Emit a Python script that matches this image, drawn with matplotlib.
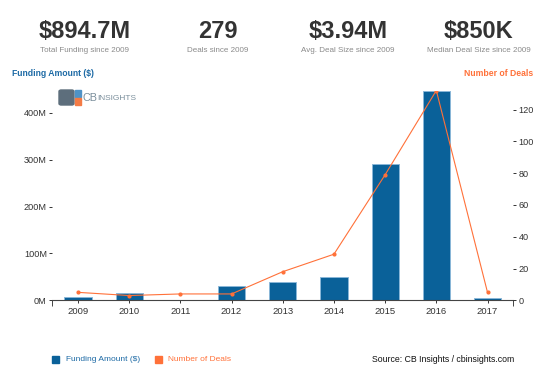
import matplotlib
matplotlib.use("Agg")
import matplotlib.pyplot as plt
from matplotlib.patches import FancyBboxPatch, Rectangle
import numpy as np

plt.rcParams['font.family'] = ['Liberation Sans', 'DejaVu Sans']

years = ['2009', '2010', '2011', '2012', '2013', '2014', '2015', '2016', '2017']
funding_m = [8, 16.5, 1, 30, 38.5, 49, 290, 448, 5]
deals = [5, 3, 4, 4, 18, 29, 79, 132, 5]

kpi_values = ['$894.7M', '279', '$3.94M', '$850K']
kpi_labels = ['Total Funding since 2009', 'Deals since 2009',
              'Avg. Deal Size since 2009', 'Median Deal Size since 2009']
left_ticks = [0, 100, 200, 300, 400]
right_ticks = [0, 20, 40, 60, 80, 100, 120]

BLUE = '#0a6199'
BLUE_TXT = '#1d6aa5'
ORANGE = '#ff7139'

W, H = 550, 373
fig = plt.figure(figsize=(W / 100, H / 100), dpi=100)

def fx(x):
    return x / W

def fy(y):
    return 1 - y / H

# KPI header
kpi_x = [85, 218, 348, 479]
for x, v, l in zip(kpi_x, kpi_values, kpi_labels):
    fig.text(fx(x), fy(32), v, ha='center', va='center', fontsize=17,
             fontweight='bold', color='#333333')
    fig.text(fx(x), fy(51), l, ha='center', va='center', fontsize=5.8,
             color='#8a8a8a')

# axes
x0, x1, yb, yt = 52.4, 513.1, 300.3, 90.5
ax = fig.add_axes([fx(x0), fy(yb), fx(x1 - x0), (yb - yt) / H])
xs = np.arange(len(years))
ax.bar(xs, funding_m, width=0.53, color=BLUE, edgecolor='#8ab7d8', linewidth=0.7, zorder=2)
ax.set_xlim(-0.5, len(years) - 0.5)
ax.set_ylim(0, max(funding_m))
ax.set_yticks(left_ticks)
ax.set_yticklabels([f'{t}M' for t in left_ticks])
ax.set_xticks(xs)
ax.set_xticklabels(years)
for s in ['top', 'left', 'right']:
    ax.spines[s].set_visible(False)
ax.spines['bottom'].set_color('#444444')
ax.spines['bottom'].set_linewidth(0.8)
ax.tick_params(axis='y', direction='out', length=2.5, width=0.7, pad=1.5,
               labelsize=6.6, colors='#333333')
ax.tick_params(axis='x', direction='out', length=2.5, width=0.7, pad=2.5,
               labelsize=6.8, colors='#333333')
ax.set_xticks([-0.5, len(years) - 0.5], minor=True)
ax.tick_params(axis='x', which='minor', length=4, width=0.7, color='#444444')

ax2 = ax.twinx()
ax2.plot(xs, deals, color=ORANGE, linewidth=0.8, marker='o', markersize=2,
         zorder=3)
ax2.set_ylim(0, max(deals))
ax2.set_yticks(right_ticks)
for s in ['top', 'left', 'right', 'bottom']:
    ax2.spines[s].set_visible(False)
ax2.tick_params(axis='y', direction='out', length=2.5, width=0.7, pad=1.5,
                labelsize=6.6, colors='#333333')

# axis titles
fig.text(fx(12), fy(74), 'Funding Amount ($)', ha='left', va='center',
         fontsize=6.2, fontweight='bold', color=BLUE_TXT)
fig.text(fx(533), fy(74), 'Number of Deals', ha='right', va='center',
         fontsize=6.2, fontweight='bold', color=ORANGE)

# logo
fig.patches.append(FancyBboxPatch((fx(59), fy(105)), fx(15), (105 - 90) / H,
                                  boxstyle='round,pad=0,rounding_size=0.004',
                                  transform=fig.transFigure, color='#5d6e7c'))
fig.patches.append(Rectangle((fx(75), fy(97)), fx(5.5), 7 / H,
                             transform=fig.transFigure, color='#4f93c7'))
fig.patches.append(Rectangle((fx(75), fy(105)), fx(5.5), 7 / H,
                             transform=fig.transFigure, color='#f47b45'))
fig.text(fx(82.5), fy(98), 'CB', ha='left', va='center', fontsize=7.8,
         color='#7b8f9c')
fig.text(fx(97.5), fy(98.6), 'INSIGHTS', ha='left', va='center', fontsize=6.0,
         color='#7b8f9c')

# legend
fig.patches.append(Rectangle((fx(52), fy(362.7)), fx(7), 7 / H,
                             transform=fig.transFigure, color=BLUE))
fig.text(fx(66), fy(359.5), 'Funding Amount ($)', ha='left', va='center',
         fontsize=6, color=BLUE_TXT)
fig.patches.append(Rectangle((fx(155), fy(362.7)), fx(7), 7 / H,
                             transform=fig.transFigure, color=ORANGE))
fig.text(fx(168), fy(359.5), 'Number of Deals', ha='left', va='center',
         fontsize=6, color=ORANGE)
fig.text(fx(514.4), fy(359.5), 'Source: CB Insights / cbinsights.com',
         ha='right', va='center', fontsize=6.3, color='#111111')

fig.savefig('out.png', dpi=100)
